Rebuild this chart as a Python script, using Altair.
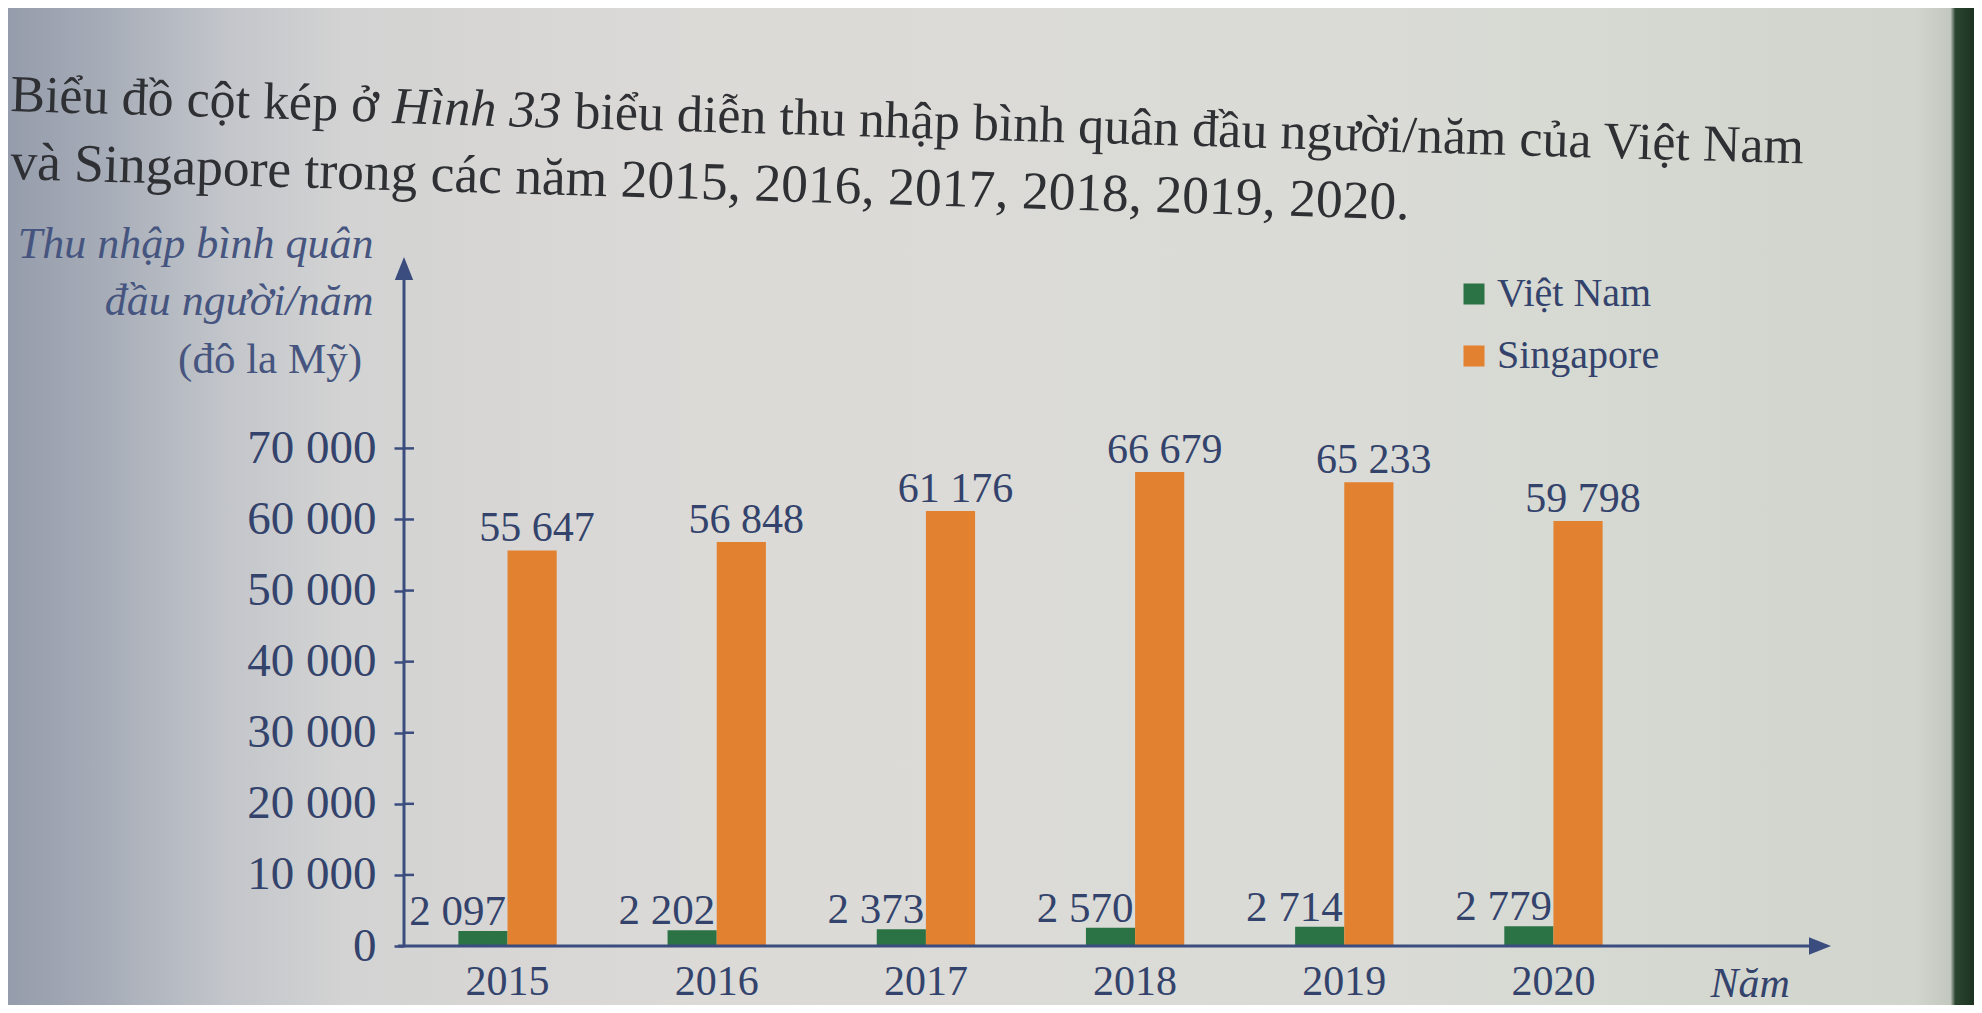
import altair as alt
import pandas as pd

# ---------------- data ----------------
years = ["2015", "2016", "2017", "2018", "2019", "2020"]
vietnam = [2097, 2202, 2373, 2570, 2714, 2779]
singapore = [55647, 56848, 61176, 66679, 65233, 59798]
countries = ["Việt Nam", "Singapore"]
colors = ["#2b7245", "#e2812f"]
y_ticks = [0, 10000, 20000, 30000, 40000, 50000, 60000, 70000]

title_a = "Biểu đồ cột kép ở"
title_b = "Hình 33"
title_c = "biểu diễn thu nhập bình quân đầu người/năm của Việt Nam"
title_line2 = "và Singapore trong các năm 2015, 2016, 2017, 2018, 2019, 2020."
y_title = ["Thu nhập bình quân", "đầu người/năm"]
y_unit = "(đô la Mỹ)"
x_title = "Năm"

rows = []
for i, yr in enumerate(years):
    rows.append({"year": yr, "country": countries[0], "value": vietnam[i]})
    rows.append({"year": yr, "country": countries[1], "value": singapore[i]})
df = pd.DataFrame(rows)

# ---------------- styling ----------------
FONT = "Liberation Serif"
AXIS_C = "#3b4d7e"
TEXT_C = "#33436c"
TITLE_C = "#2e3034"
W, H = 1253, 686
YMAX = 96500
PAD = {"left": 396, "top": 252, "right": 317, "bottom": 59}
FMT = "replace(format(datum.value, ','), ',', ' ')"

x_enc = alt.X(
    "year:N", sort=years,
    scale=alt.Scale(paddingInner=0.53, paddingOuter=0.26),
    axis=alt.Axis(
        labelFont=FONT, labelFontSize=42, labelColor=TEXT_C, labelPadding=15,
        labelAngle=0, ticks=False, tickSize=0, domain=False, grid=False, zindex=2,
        title=x_title, titleFont=FONT, titleFontSize=42, titleFontStyle="italic",
        titleFontWeight="normal", titleColor=TEXT_C, titleX=1306, titleY=50,
        titleAlign="left", titleBaseline="alphabetic",
    ),
)
xo_enc = alt.XOffset("country:N", sort=countries,
                     scale=alt.Scale(domain=countries, paddingInner=0, paddingOuter=0))
y_enc = alt.Y(
    "value:Q",
    scale=alt.Scale(domain=[0, YMAX], nice=False, zero=True),
    axis=alt.Axis(
        values=y_ticks, labelExpr=FMT, labelFont=FONT, labelFontSize=47,
        labelColor=TEXT_C, labelPadding=18, labelOverlap=False, labelBaseline="middle",
        tickSize=10, tickWidth=2.5, tickColor=AXIS_C, domain=False, grid=False, zindex=2,
        title=y_title, titleFont=FONT, titleFontSize=44, titleFontStyle="italic",
        titleFontWeight="normal", titleColor="#46557f", titleAngle=0,
        titleAlign="right", titleBaseline="alphabetic", titleX=-31, titleY=-3,
        titleLineHeight=57,
    ),
)

one = pd.DataFrame({"k": [0]})

bg = alt.Chart(one).mark_rect(
    fill=alt.LinearGradient(
        gradient="linear", x1=0, x2=1, y1=0, y2=0,
        stops=[
            alt.GradientStop(color="#959cab", offset=0),
            alt.GradientStop(color="#a7adb8", offset=0.05),
            alt.GradientStop(color="#c2c5ca", offset=0.11),
            alt.GradientStop(color="#d3d3d3", offset=0.17),
            alt.GradientStop(color="#dcdad7", offset=0.35),
            alt.GradientStop(color="#dadbd6", offset=0.7),
            alt.GradientStop(color="#d1d5cd", offset=0.97),
            alt.GradientStop(color="#c2c7bf", offset=0.988),
            alt.GradientStop(color="#2a4530", offset=0.9905),
            alt.GradientStop(color="#1c3222", offset=1),
        ],
    )
).encode(
    x=alt.value(-PAD["left"]), x2=alt.value(W + PAD["right"]),
    y=alt.value(-PAD["top"]), y2=alt.value(H + PAD["bottom"]),
)

bars = alt.Chart(df).mark_bar().encode(
    x=x_enc, xOffset=xo_enc, y=y_enc,
    color=alt.Color(
        "country:N", sort=countries,
        scale=alt.Scale(domain=countries, range=colors),
        legend=alt.Legend(
            orient="none", legendX=1050, legendY=14, title=None,
            symbolType="square", symbolSize=441, symbolStrokeWidth=0,
            symbolOpacity=1, labelFont=FONT, labelFontSize=40,
            labelColor=TEXT_C, labelOffset=3, rowPadding=22, padding=0,
            direction="vertical", labelLimit=400,
        ),
    ),
)

tick_df = pd.DataFrame({"value": y_ticks[1:]})
inner_ticks = alt.Chart(tick_df).mark_rule(color=AXIS_C, strokeWidth=2.5).encode(
    y="value:Q", x=alt.value(0), x2=alt.value(10)
)

y_line = alt.Chart(one).mark_rule(color=AXIS_C, strokeWidth=3).encode(
    x=alt.value(0), y=alt.value(H), y2=alt.value(12)
)
y_arrow = alt.Chart(one).mark_point(
    shape="M0,-1L0.8,1L-0.8,1Z", filled=True, color=AXIS_C, size=529,
    opacity=1, strokeWidth=0,
).encode(x=alt.value(0), y=alt.value(8.5))

x_line = alt.Chart(one).mark_rule(color=AXIS_C, strokeWidth=3).encode(
    x=alt.value(-6), x2=alt.value(1414), y=alt.value(H)
)
x_arrow = alt.Chart(one).mark_point(
    shape="M1,0L-1,-0.8L-1,0.8Z", filled=True, color=AXIS_C, size=484,
    opacity=1, strokeWidth=0,
).encode(x=alt.value(1416), y=alt.value(H))

vn_labels = alt.Chart(df).transform_filter(
    alt.datum.country == countries[0]
).transform_calculate(label=FMT).mark_text(
    align="right", baseline="alphabetic", dx=23, dy=-6,
    font=FONT, fontSize=43, color=TEXT_C,
).encode(x=x_enc, xOffset=xo_enc, y=y_enc, text="label:N")

sg_labels = alt.Chart(df).transform_filter(
    alt.datum.country == countries[1]
).transform_calculate(label=FMT).mark_text(
    align="center", baseline="alphabetic", dx=5, dy=-9,
    font=FONT, fontSize=42, color=TEXT_C,
).encode(x=x_enc, xOffset=xo_enc, y=y_enc, text="label:N")


def note(txt, x, y, size, style="normal", angle=0, align="left", color=TITLE_C):
    return alt.Chart(one).mark_text(
        text=txt, align=align, baseline="alphabetic", font=FONT,
        fontSize=size, fontStyle=style, angle=angle, color=color,
    ).encode(x=alt.value(x), y=alt.value(y))


ANG = 1.65
unit = note(y_unit, -42, 113, 43, color="#46557f", align="right")
t_a = note(title_a, -394, -149, 52, angle=ANG)
t_b = note(title_b, -12, -137, 52, style="italic", angle=ANG)
t_c = note(title_c, 170, -132, 52, angle=ANG)
t_2 = note(title_line2, -394, -81, 53.5, angle=ANG)

chart = alt.layer(
    bg, bars, inner_ticks, y_line, y_arrow, x_line, x_arrow,
    vn_labels, sg_labels, unit, t_a, t_b, t_c, t_2,
).properties(
    width=W, height=H, padding=PAD,
    autosize=alt.AutoSizeParams(type="none"),
    background="#d8d8d5",
).configure_view(stroke=None)

chart.save("out.html", embed_options={"renderer": "svg", "actions": False})
